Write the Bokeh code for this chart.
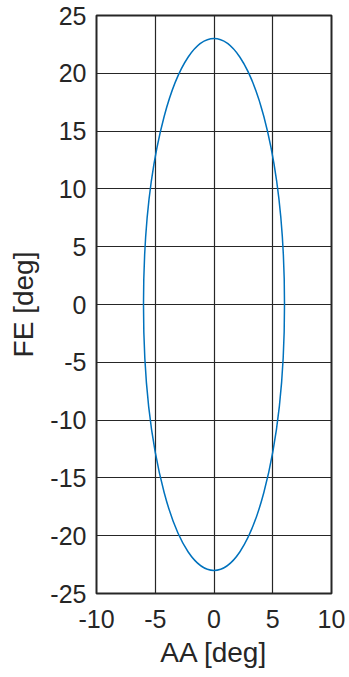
from bokeh.plotting import figure
from bokeh.models import Range1d, FixedTicker, PrintfTickFormatter
from bokeh.embed import file_html
from bokeh.resources import INLINE

# Ellipse of the AA / FE range of motion (centre and full spans, degrees)
center_aa = [0.0]
center_fe = [0.0]
span_aa = [12.0]
span_fe = [46.0]

x_ticks = [-10, -5, 0, 5, 10]
y_ticks = [-25, -20, -15, -10, -5, 0, 5, 10, 15, 20, 25]

FONT = "Liberation Sans"
INK = "#262626"

p = figure(
    width=349, height=677,
    x_range=Range1d(-10, 10), y_range=Range1d(-25, 25),
    output_backend="svg", toolbar_location=None,
    min_border_left=96, min_border_right=18,
    min_border_top=15, min_border_bottom=84,
    background_fill_color="white", border_fill_color="white",
)

p.ellipse(x=center_aa, y=center_fe, width=span_aa, height=span_fe,
          fill_color=None, line_color="#0072BD", line_width=1.5)

p.outline_line_color = INK
p.outline_line_width = 2
p.outline_line_alpha = 1

for ax, ticks in ((p.xaxis[0], x_ticks), (p.yaxis[0], y_ticks)):
    ax.ticker = FixedTicker(ticks=ticks)
    ax.formatter = PrintfTickFormatter(format="%d")
    ax.axis_line_color = None
    ax.major_tick_in = 6
    ax.major_tick_out = 0
    ax.major_tick_line_color = INK
    ax.minor_tick_line_color = None
    ax.major_label_text_font = FONT
    ax.major_label_text_font_size = "25px"
    ax.major_label_text_color = INK
    ax.axis_label_text_font = FONT
    ax.axis_label_text_font_size = "28px"
    ax.axis_label_text_font_style = "normal"
    ax.axis_label_text_color = INK

p.xaxis.axis_label = "AA [deg]"
p.yaxis.axis_label = "FE [deg]"
p.xaxis.major_label_standoff = 16
p.yaxis.major_label_standoff = 10
p.xaxis.axis_label_standoff = 6
p.yaxis.axis_label_standoff = 8

p.xgrid.ticker = FixedTicker(ticks=x_ticks)
p.ygrid.ticker = FixedTicker(ticks=y_ticks)
for g in (p.xgrid[0], p.ygrid[0]):
    g.grid_line_color = INK
    g.grid_line_alpha = 1
    g.grid_line_width = 1.2

open("out.html", "w").write(file_html(p, INLINE))
